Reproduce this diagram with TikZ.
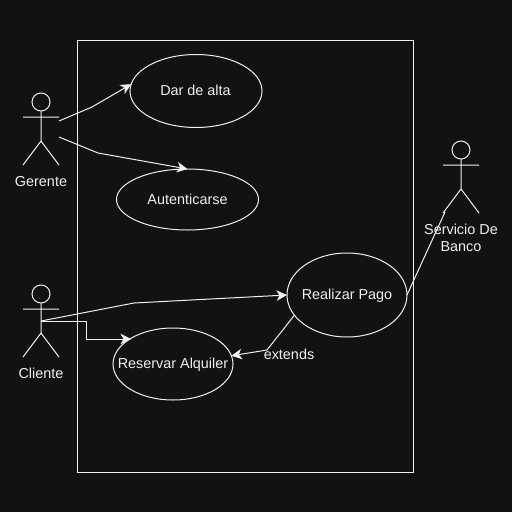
\documentclass[tikz,border=0pt]{standalone}
\usepackage{fontspec}
\setmainfont{Liberation Sans}
\usetikzlibrary{shapes.geometric,arrows.meta}
\definecolor{bgc}{HTML}{121212}
\definecolor{fgc}{HTML}{F0F0F0}
\newcommand{\casetext}[1]{\makebox[0pt][c]{\raisebox{-4.6pt}[0pt][0pt]{#1}}}
\tikzset{
  case/.style={ellipse,draw=fgc,line width=1pt,inner sep=0pt,outer sep=0pt,text=fgc,font=\fontsize{14.4}{17}\selectfont},
  lab/.style={text=fgc,font=\fontsize{14.4}{17}\selectfont,inner sep=0pt,align=center},
  limb/.style={draw=fgc,line width=1pt},
  link/.style={draw=fgc,line width=1pt,-{Stealth[length=10.5pt,width=10.5pt,inset=3pt]}},
  plain/.style={draw=fgc,line width=1pt}
}
\begin{document}
\begin{tikzpicture}[x=1pt,y=-1pt]
\useasboundingbox (0,0) rectangle (512,512);
\fill[bgc] (0,0) rectangle (512,512);
\draw[draw=fgc,line width=1pt] (77,40) rectangle (413,472);
% use cases
\node[case,minimum width=132pt,minimum height=73pt] (dar) at (196,91) {\hspace{-1pt}\casetext{Dar de alta}};
\node[case,minimum width=142pt,minimum height=61pt] (aut) at (187.5,199.5) {\casetext{Autenticarse}};
\node[case,minimum width=120pt,minimum height=84pt] (pago) at (347,295) {\casetext{Realizar Pago}};
\node[case,minimum width=120pt,minimum height=72pt] (res) at (173,364) {\casetext{Reservar Alquiler}};
% actors
\draw[limb] (41,102) circle (9pt);
\draw[limb] (41,111) -- (41,141) (23,117) -- (59,117) (23,165) -- (41,141) -- (59,165);
\node[lab] (ger) at (41,181.7) {Gerente};
\draw[limb] (41,294) circle (9pt);
\draw[limb] (41,303) -- (41,333) (23,309) -- (59,309) (23,357) -- (41,333) -- (59,357);
\node[lab] (cli) at (41,373) {Cliente};
\draw[limb] (461,150) circle (9pt);
\draw[limb] (461,159) -- (461,189) (443,165) -- (479,165) (443,213) -- (461,189) -- (479,213);
\node[lab] (ban) at (461,238) {Servicio De\\Banco};
\node[lab] (ext) at (289,354) {extends};
% ports
\coordinate (g1) at (59,121);
\coordinate (g2) at (59,137);
\coordinate (c1) at (41,321);
\coordinate (b1) at (445,212);
% connectors
\draw[link] (g1) -- (92,107) -- (dar.174);
\draw[link] (g2) -- (98,153) -- (aut.90);
\draw[link] (c1) -- (134,303) -- (pago.180);
\draw[link] (c1) -- (86,321) -- (86,339) -- (131,339);
\draw[link] (pago.201) -- (267,350) -- (res.8);
\draw[plain] (pago.0) -- (b1);
\end{tikzpicture}
\end{document}
